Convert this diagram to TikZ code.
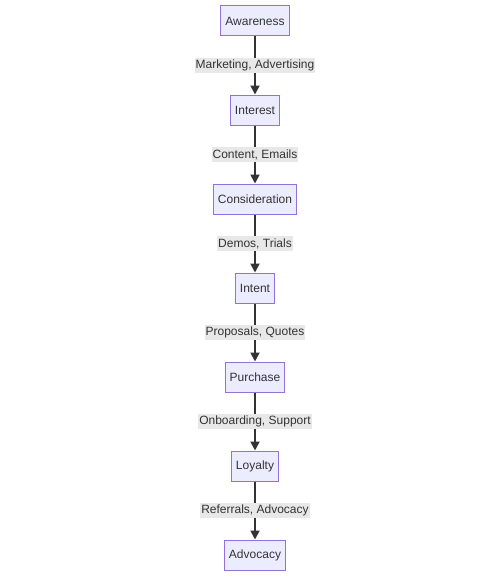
\documentclass[tikz,border=0pt]{standalone}
\usepackage{fontspec}
\setmainfont{Liberation Sans}
\usetikzlibrary{arrows.meta}
\definecolor{nodefill}{HTML}{ECECFF}
\definecolor{nodeline}{HTML}{9370DB}
\definecolor{edgeline}{HTML}{333333}
\definecolor{lblbg}{HTML}{E8E8E8}
\begin{document}
\begin{tikzpicture}[x=1pt,y=-1pt,
  stage/.style={draw=nodeline, fill=nodefill, line width=1pt, minimum height=30pt, inner xsep=4.5pt, text=edgeline, font=\fontsize{12}{14}\selectfont},
  lbl/.style={fill=lblbg, inner xsep=1pt, inner ysep=2pt, text=edgeline, font=\fontsize{12}{14}\selectfont},
  flow/.style={draw=edgeline, line width=1.8pt, -{Triangle[length=9pt,width=9pt]}}]
\useasboundingbox (0,0) rectangle (500,578);
\node[stage] (a) at (255,21) {Awareness};
\node[stage] (b) at (255,110) {Interest};
\node[stage] (c) at (255,199) {Consideration};
\node[stage] (d) at (255,288) {Intent};
\node[stage] (e) at (255,377) {Purchase};
\node[stage] (f) at (255,466) {Loyalty};
\node[stage] (g) at (255,555) {Advocacy};
\foreach \s/\t/\l in {a/b/{Marketing, Advertising}, b/c/{Content, Emails}, c/d/{Demos, Trials}, d/e/{Proposals, Quotes}, e/f/{Onboarding, Support}, f/g/{Referrals, Advocacy}}{
  \draw[flow] (\s) -- node[lbl] {\l} (\t);
}
\end{tikzpicture}
\end{document}
